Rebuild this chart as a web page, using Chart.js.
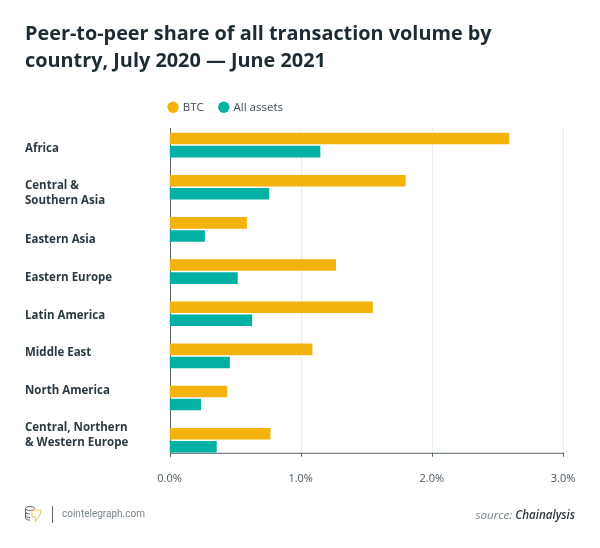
<!DOCTYPE html>
<html><head><meta charset="utf-8">
<script src="https://cdn.jsdelivr.net/npm/chart.js@4/dist/chart.umd.min.js"></script>
<style>
html,body{margin:0;padding:0;background:#fff}
#wrap{position:relative;width:600px;height:548px;overflow:hidden}
canvas{position:absolute;left:0;top:0}
.foot{position:absolute;font-family:"Open Sans",sans-serif;white-space:nowrap}
</style></head><body>
<div id="wrap">
<canvas id="c" width="600" height="548"></canvas>
<svg class="foot" style="left:24px;top:505px" width="20" height="18" viewBox="0 0 20 18" fill="none">
<ellipse cx="6" cy="3.5" rx="4.5" ry="2" stroke="#5a666d" stroke-width="1"/>
<path d="M1.5 3.5V13c0 1.2 2 2.2 4.5 2.2M1.5 7c0 1.2 2 2 4.5 2M1.5 10.5c0 1.2 2 2 4.5 2" stroke="#5a666d" stroke-width="1"/>
<path d="M8 5h9l-1 5-5 7 1-5H8z" stroke="#f1c54f" stroke-width="1"/>
</svg>
<div class="foot" style="left:52px;top:506px;width:1px;height:17px;background:#5a666d"></div>
<div class="foot" style="left:62px;top:506px;font-family:Roboto,sans-serif;font-size:10px;line-height:16px;color:#7b868c">cointelegraph.com</div>
<div class="foot" style="right:25px;top:506px;font-size:11.6px;line-height:17px;font-style:italic;color:#7b868c">source: <span style="color:#2b3a42;font-weight:600">Chainalysis</span></div>
</div>
<script>
const titleLines = ["Peer-to-peer share of all transaction volume by", "country, July 2020 \u2014 June 2021"];
const categories = [["Africa"], ["Central &", "Southern Asia"], ["Eastern Asia"], ["Eastern Europe"], ["Latin America"], ["Middle East"], ["North America"], ["Central, Northern", "& Western Europe"]];
const btcValues = [2.59, 1.80, 0.59, 1.27, 1.55, 1.09, 0.44, 0.77];
const allAssetsValues = [1.15, 0.76, 0.27, 0.52, 0.63, 0.46, 0.24, 0.36];
const xTicks = [0, 1, 2, 3];
const labelShift = [4, 6, 10, 6, 2, -3, -7, -5];

const ink = "#2b3a42", axisInk = "#56646c", grid = "#e9ecee";

const layoutTweaks = {
  id: "layoutTweaks",
  beforeDraw(chart) {
    const y = chart.scales.y;
    if (!y._shifted) {
      const base = y.getPixelForTick.bind(y);
      y.getPixelForTick = i => base(i) + labelShift[i];
      y._labelItems = null;
      y._shifted = true;
    }
    const lg = chart.legend;
    if (!lg._shifted) { lg.left = 25; lg.right = 427; lg.top -= 1; lg._shifted = true; }
  },
  beforeDatasetsDraw(chart) {
    const { ctx, chartArea: a, scales: { x } } = chart;
    const top = a.top + 4, bottom = a.bottom - 8.5;
    ctx.save();
    ctx.lineWidth = 1;
    xTicks.forEach(v => {
      const px = Math.round(x.getPixelForValue(v)) + 0.5;
      ctx.strokeStyle = grid;
      ctx.beginPath(); ctx.moveTo(px, top); ctx.lineTo(px, bottom); ctx.stroke();
      ctx.strokeStyle = axisInk;
      ctx.beginPath(); ctx.moveTo(px, bottom); ctx.lineTo(px, bottom + 4); ctx.stroke();
    });
    const p0 = Math.round(x.getPixelForValue(0)) + 0.5;
    const p3 = Math.round(x.getPixelForValue(3)) + 0.5;
    ctx.strokeStyle = axisInk;
    ctx.beginPath(); ctx.moveTo(p0, top); ctx.lineTo(p0, bottom + 4); ctx.stroke();
    ctx.beginPath(); ctx.moveTo(p0, bottom + 0.5); ctx.lineTo(p3, bottom + 0.5); ctx.stroke();
    ctx.restore();
  }
};

new Chart(document.getElementById("c"), {
  type: "bar",
  plugins: [layoutTweaks],
  data: {
    labels: categories,
    datasets: [
      { label: "BTC", data: btcValues, backgroundColor: "#f4b30c", borderWidth: 0 },
      { label: "All assets", data: allAssetsValues, backgroundColor: "#02b1a4", borderWidth: 0 }
    ]
  },
  options: {
    indexAxis: "y",
    responsive: false,
    animation: false,
    devicePixelRatio: 1,
    layout: { padding: { left: 25, right: 37, top: 20.5, bottom: 60.5 } },
    categoryPercentage: 0.62,
    barPercentage: 0.885,
    plugins: {
      tooltip: { enabled: false },
      title: {
        display: true, text: titleLines, align: "start", color: "#1d2b33",
        font: { family: "Open Sans", size: 19.85, weight: "700", lineHeight: 1.36 },
        padding: { top: 0, bottom: 12 }
      },
      legend: {
        display: true, position: "top", align: "center",
        labels: {
          usePointStyle: true, pointStyle: "circle", boxWidth: 8, boxHeight: 8,
          color: "#3d4b53", padding: 16,
          font: { family: "Open Sans", size: 11.5 }
        }
      }
    },
    scales: {
      x: {
        type: "linear", min: 0, max: 3, position: "bottom",
        grid: { display: false }, border: { display: false },
        afterBuildTicks(s) { s.ticks = xTicks.map(v => ({ value: v })); },
        ticks: {
          padding: 2.5, color: "#4a5860", maxRotation: 0,
          font: { family: "Open Sans", size: 11 },
          callback: v => v.toFixed(1) + "%"
        }
      },
      y: {
        type: "category", position: "left",
        afterFit(s) { s.width = 144.5; },
        grid: { display: false }, border: { display: false },
        ticks: {
          crossAlign: "far", color: ink, autoSkip: false, padding: 0,
          font: { family: "Open Sans", size: 11.5, weight: "700", lineHeight: 1.35 }
        }
      }
    }
  }
});
</script>
</body></html>
